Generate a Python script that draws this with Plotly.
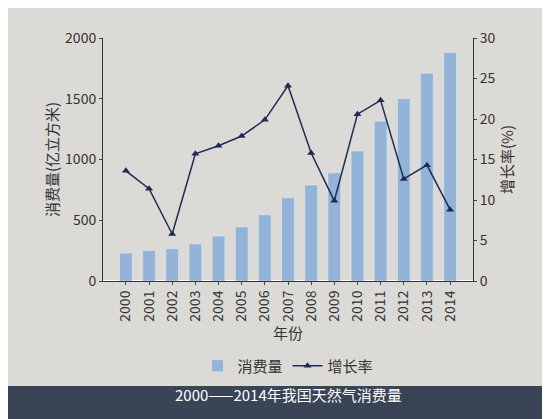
import plotly.graph_objects as go

years = [str(y) for y in range(2000, 2015)]
consumption = [230, 250, 265, 305, 370, 445, 545, 685, 790, 890, 1070, 1315, 1500, 1710, 1880]
growth = [13.6, 11.4, 5.8, 15.7, 16.7, 17.9, 19.9, 24.1, 15.8, 9.9, 20.6, 22.3, 12.6, 14.3, 8.8]

font = "Noto Sans CJK SC"
fig = go.Figure()
fig.add_trace(go.Bar(x=years, y=consumption, name="消费量", marker_color="#93b3d9", width=0.55))
fig.add_trace(go.Scatter(x=years, y=growth, name="增长率", yaxis="y2", mode="lines+markers",
                         line=dict(color="#1f2a55", width=1.5),
                         marker=dict(symbol="triangle-up", size=7, color="#1f2a55")))
fig.update_layout(
    width=550, height=419, margin=dict(l=95, r=85, t=30, b=146),
    paper_bgcolor="#dcdad6", plot_bgcolor="#dcdad6",
    font=dict(family=font, size=14, color="#333"),
    xaxis=dict(type="category", tickangle=-90, showline=True, linecolor="#333",
               title=dict(text="年份", standoff=0, font=dict(size=15)), ticks="outside", ticklen=3),
    yaxis=dict(range=[0, 2000], dtick=500, showgrid=False, showline=True, linecolor="#333",
               ticks="outside", ticklen=3, title=dict(text="消费量(亿立方米)", standoff=2, font=dict(size=15))),
    yaxis2=dict(range=[0, 30], dtick=5, overlaying="y", side="right", showgrid=False,
                showline=True, linecolor="#333", ticks="outside", ticklen=3,
                title=dict(text="增长率(%)", standoff=2, font=dict(size=15))),
    legend=dict(orientation="h", x=0.5, xanchor="center", y=-(358-273)/243, yanchor="middle",
                bgcolor="rgba(0,0,0,0)", font=dict(size=15)),
    shapes=[dict(type="rect", xref="paper", yref="paper", x0=-0.3, x1=1.3,
                 y0=-(378-273)/243, y1=-(419-273)/243 - 0.01,
                 fillcolor="#394456", line_width=0, layer="above")],
    annotations=[dict(text="2000——2014年我国天然气消费量", xref="paper", yref="paper",
                      x=0.5, y=-(399-273)/243, showarrow=False,
                      font=dict(color="white", size=15, family=font))],
)
fig.write_html("out.html")
